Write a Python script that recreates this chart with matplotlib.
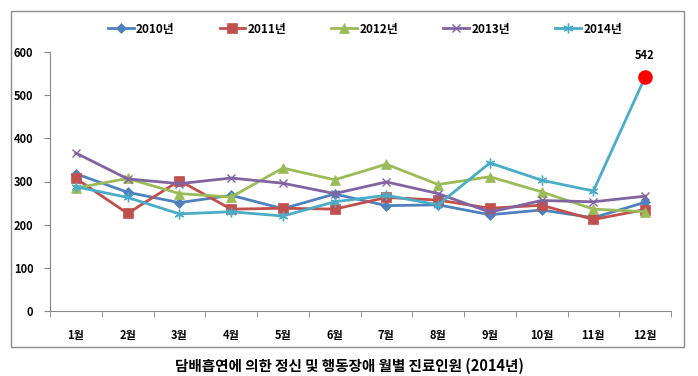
import matplotlib
matplotlib.use("Agg")
import matplotlib.pyplot as plt
from matplotlib.patches import Rectangle

plt.rcParams["font.family"] = ["Noto Sans CJK KR", "DejaVu Sans"]

months = ["1월", "2월", "3월", "4월", "5월", "6월", "7월", "8월", "9월", "10월", "11월", "12월"]
y2010 = [318, 275, 251, 268, 237, 271, 244, 246, 223, 234, 216, 252]
y2011 = [307, 226, 302, 236, 238, 236, 263, 257, 238, 245, 212, 235]
y2012 = [285, 307, 272, 264, 331, 304, 340, 293, 311, 276, 236, 230]
y2013 = [366, 306, 295, 308, 296, 272, 299, 272, 229, 256, 253, 266]
y2014 = [288, 263, 225, 230, 220, 253, 268, 246, 343, 303, 278, 542]
series_names = ["2010년", "2011년", "2012년", "2013년", "2014년"]
title = "담배흡연에 의한 정신 및 행동장애 월별 진료인원 (2014년)"

colors = ["#4F81BD", "#C0504D", "#9BBB59", "#8064A2", "#4BACC6"]
markers = ["D", "s", "^", "x", (6, 2, 0)]
msizes = [5, 7, 6.5, 6, 7]

fig = plt.figure(figsize=(6.98, 3.76), dpi=100)
ax = fig.add_axes([50 / 698, 1 - 311 / 376, 621 / 698, 259 / 376])

# outer chart border
fig.patches.append(Rectangle((11 / 698, 1 - 347 / 376), 673 / 698, 336 / 376,
                             transform=fig.transFigure, fill=False,
                             edgecolor="#8C8C8C", linewidth=1))

x = list(range(len(months)))
for vals, name, c, m, ms in zip([y2010, y2011, y2012, y2013, y2014],
                                series_names, colors, markers, msizes):
    ax.plot(x, vals, color=c, marker=m, markersize=ms, linewidth=2,
            markeredgewidth=1 if m in ("x", (6, 2, 0)) else 0.5,
            markeredgecolor=c, label=name)

# highlight December 2014
ax.plot(x[-1], y2014[-1], "o", color="#FF0000", markersize=9.5, zorder=5)
ax.annotate(str(y2014[-1]), (x[-1], y2014[-1]), xytext=(0, 11),
            textcoords="offset points", ha="center", va="bottom",
            fontsize=8, fontweight="bold")

ax.set_xlim(-0.5, 11.5)
ax.set_ylim(0, 600)
ax.set_yticks(range(0, 601, 100))
ax.set_xticks(x)
ax.set_xticklabels(months)
ax.set_xticks([i - 0.5 for i in range(13)], minor=True)
ax.tick_params(axis="x", which="major", length=0, pad=13)
ax.tick_params(axis="x", which="minor", length=4, color="#868686", direction="out")
ax.tick_params(axis="y", length=4, color="#868686", pad=8)
for lbl in ax.get_xticklabels() + ax.get_yticklabels():
    lbl.set_fontsize(8)
    lbl.set_fontweight("bold")

for s in ["top", "right"]:
    ax.spines[s].set_visible(False)
for s in ["left", "bottom"]:
    ax.spines[s].set_color("#868686")

fig.legend(loc="center", bbox_to_anchor=(365 / 698, 1 - 29 / 376), ncol=5,
           frameon=False, handlelength=2.2, handletextpad=0.2,
           columnspacing=3.8, prop={"size": 8.5, "weight": "bold"})

fig.text(349 / 698, 1 - 366 / 376, title, ha="center", va="center",
         fontsize=10.5, fontweight="bold")

fig.savefig("out.png", dpi=100)
